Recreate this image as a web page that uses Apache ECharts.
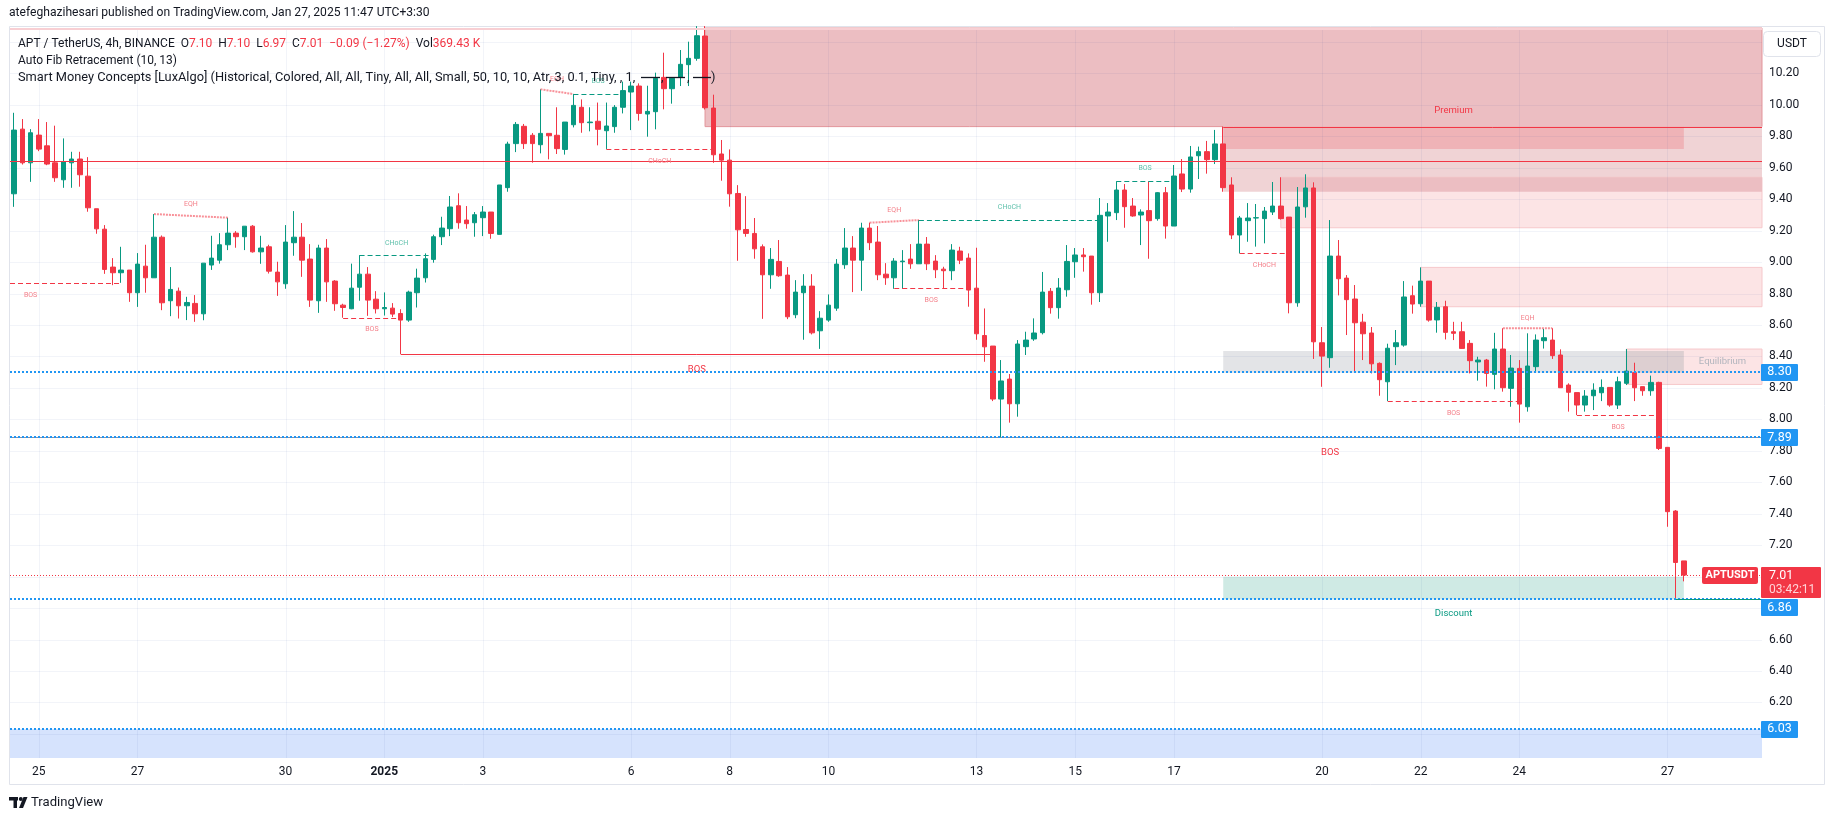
<!DOCTYPE html>
<html><head><meta charset="utf-8">
<script src="https://cdn.jsdelivr.net/npm/echarts@6.0.0/dist/echarts.min.js"></script>
<style>html,body{margin:0;padding:0;background:#fff;}#c{width:1835px;height:821px;}</style>
</head><body><div id="c"></div>
<script>
// ---------- DATA ----------
const opens = [9.434,9.845,9.631,9.807,9.739,9.631,9.523,9.631,9.655,9.546,9.339,9.209,8.968,8.932,8.949,8.805,8.974,8.900,9.158,8.754,
8.815,8.722,8.737,8.671,8.981,9.012,9.110,9.184,9.161,9.228,9.065,9.097,8.936,8.862,9.123,9.158,9.019,8.754,9.089,8.879,
8.726,8.703,8.840,8.923,8.764,8.703,8.707,8.673,8.631,8.805,8.900,9.017,9.161,9.212,9.358,9.267,9.250,9.282,9.318,9.176,
9.473,9.753,9.863,9.806,9.746,9.818,9.806,9.716,9.873,9.984,9.886,9.895,9.835,9.861,9.984,10.081,10.119,9.941,9.956,10.174,
10.102,10.174,10.255,10.295,10.437,9.979,9.687,9.648,9.436,9.207,9.182,9.097,8.919,9.004,8.917,8.665,8.805,8.847,8.563,8.631,
8.707,8.983,9.089,9.012,9.216,9.127,8.923,8.900,9.002,9.019,8.989,9.114,9.006,8.955,8.945,9.070,9.025,8.834,8.533,8.466,
8.129,8.256,8.099,8.462,8.511,8.551,8.814,8.710,8.824,9.002,9.045,9.038,8.805,9.293,9.314,9.458,9.356,9.299,9.327,9.276,
9.441,9.229,9.560,9.464,9.676,9.702,9.651,9.751,9.490,9.172,9.263,9.280,9.276,9.318,9.356,9.286,8.741,9.351,9.471,8.487,
8.392,9.038,8.898,8.765,8.618,8.549,8.356,8.239,8.462,8.472,8.786,8.735,8.879,8.632,8.716,8.557,8.557,8.483,8.365,8.377,
8.286,8.447,8.197,8.324,8.080,8.335,8.500,8.504,8.409,8.218,8.170,8.091,8.150,8.169,8.203,8.091,8.229,8.297,8.208,8.182,
8.235,7.822,7.417,7.10];
const closes = [9.839,9.631,9.822,9.718,9.623,9.536,9.638,9.655,9.555,9.345,9.211,8.953,8.932,8.949,8.805,8.987,8.900,9.158,8.741,8.826,
8.722,8.743,8.671,8.993,9.025,9.110,9.184,9.161,9.228,9.065,9.089,8.942,8.874,9.127,9.158,9.012,8.758,9.089,8.874,8.735,
8.711,8.834,8.923,8.758,8.703,8.711,8.669,8.631,8.809,8.898,9.021,9.161,9.216,9.350,9.250,9.244,9.301,9.318,9.182,9.490,
9.750,9.875,9.753,9.753,9.818,9.803,9.721,9.890,9.996,9.886,9.890,9.844,9.865,9.984,10.090,10.119,9.945,9.958,10.168,10.102,
10.168,10.257,10.295,10.439,9.981,9.682,9.648,9.434,9.205,9.182,9.084,8.919,9.017,8.913,8.652,8.809,8.847,8.550,8.643,8.726,
8.987,9.089,9.012,9.216,9.123,8.919,8.900,9.006,9.006,8.989,9.114,8.989,8.951,8.945,9.076,9.012,8.822,8.544,8.461,8.129,
8.244,8.099,8.479,8.504,8.549,8.809,8.710,8.835,9.004,9.045,9.034,8.805,9.297,9.318,9.458,9.352,9.293,9.318,9.263,9.441,
9.229,9.547,9.464,9.668,9.702,9.651,9.751,9.473,9.172,9.280,9.280,9.282,9.324,9.356,9.276,8.741,9.350,9.471,8.493,8.402,
9.038,8.894,8.761,8.614,8.544,8.353,8.252,8.452,8.487,8.778,8.733,8.879,8.631,8.712,8.553,8.547,8.451,8.373,8.377,8.292,
8.447,8.201,8.326,8.097,8.339,8.504,8.519,8.405,8.201,8.172,8.091,8.148,8.186,8.203,8.091,8.239,8.307,8.201,8.182,8.235,
7.815,7.413,7.090,7.01];
const lows = [9.351,9.62,9.510,9.705,9.616,9.510,9.472,9.472,9.479,9.320,9.180,8.925,8.853,8.868,8.747,8.715,8.805,8.900,8.694,8.656,
8.641,8.631,8.62,8.63,8.95,8.99,9.076,9.091,9.076,9.060,8.989,8.927,8.785,8.830,9.040,8.906,8.715,8.677,8.747,8.690,
8.646,8.70,8.754,8.658,8.673,8.66,8.65,8.415,8.62,8.711,8.87,8.996,9.108,9.165,9.212,9.212,9.161,9.165,9.148,9.176,
9.447,9.699,9.719,9.632,9.691,9.653,9.687,9.683,9.856,9.822,9.831,9.742,9.719,9.822,9.945,9.839,9.899,9.797,9.844,9.971,
10.007,10.119,10.119,10.28,9.97,9.631,9.517,9.352,9.008,9.161,9.021,8.639,8.830,8.906,8.637,8.643,8.506,8.54,8.448,8.62,
8.690,8.957,8.809,8.817,9.076,8.885,8.855,8.830,8.830,8.957,8.989,8.949,8.898,8.832,8.885,8.987,8.716,8.506,8.366,8.116,
7.885,7.979,8.017,8.409,8.499,8.54,8.672,8.640,8.780,8.900,8.939,8.729,8.746,9.129,9.267,9.218,9.288,9.108,9.021,9.263,
9.149,9.229,9.445,9.441,9.528,9.562,9.623,9.447,9.146,9.055,9.129,9.098,9.119,9.299,9.27,8.674,8.716,9.282,8.384,8.207,
8.328,8.788,8.536,8.296,8.377,8.292,8.150,8.116,8.345,8.462,8.672,8.716,8.621,8.551,8.508,8.504,8.45,8.292,8.246,8.208,
8.191,8.176,8.080,7.979,8.049,8.307,8.45,8.384,8.20,8.049,8.027,8.049,8.059,8.116,8.080,8.066,8.218,8.116,8.150,8.150,
7.805,7.317,6.855,6.97];
const highs = [9.949,9.909,9.845,9.909,9.890,9.867,9.786,9.701,9.701,9.667,9.339,9.235,9.025,9.097,8.949,9.057,9.110,9.305,9.169,8.968,
8.838,8.779,8.790,8.993,9.167,9.184,9.281,9.197,9.228,9.235,9.167,9.110,9.002,9.235,9.324,9.248,9.114,9.110,9.146,8.885,
8.735,8.990,9.044,8.968,8.815,8.807,8.739,8.70,8.818,8.958,9.055,9.174,9.288,9.420,9.437,9.356,9.318,9.356,9.318,9.490,
9.765,9.890,9.878,9.820,10.098,9.818,9.984,9.890,10.068,10.034,9.984,10.014,10.014,9.998,10.147,10.147,10.136,10.121,10.204,10.331,
10.168,10.348,10.401,10.50,10.50,10.064,9.776,9.716,9.489,9.419,9.280,9.112,9.089,9.140,8.968,8.885,8.923,8.923,8.688,8.794,
9.019,9.216,9.165,9.250,9.250,9.229,8.993,9.025,9.076,9.114,9.267,9.159,9.044,8.970,9.114,9.097,9.055,9.091,8.705,8.466,
8.377,8.288,8.504,8.557,8.642,8.937,8.835,8.898,9.108,9.089,9.089,9.038,9.407,9.375,9.513,9.496,9.407,9.335,9.513,9.445,
9.477,9.617,9.655,9.738,9.734,9.770,9.840,9.861,9.539,9.293,9.375,9.369,9.350,9.509,9.539,9.286,9.477,9.558,9.507,8.587,
9.267,9.140,8.917,8.854,8.671,8.587,8.362,8.481,8.568,8.879,8.850,8.966,8.879,8.746,8.754,8.62,8.62,8.504,8.398,8.384,
8.55,8.579,8.409,8.377,8.547,8.54,8.575,8.579,8.445,8.229,8.170,8.186,8.229,8.254,8.203,8.271,8.447,8.360,8.208,8.278,
8.239,7.822,7.423,7.10];

const tickIdx = [3,15,33,45,57,75,87,99,117,129,141,159,171,183,201];
const tickLabels = ['25','27','30','2025','3','6','8','10','13','15','17','20','22','24','27'];
const yLabelValues = [6.2,6.4,6.6,7.2,7.4,7.6,7.8,8.0,8.2,8.4,8.6,8.8,9.0,9.2,9.4,9.6,9.8,10.0,10.2];
const gridPrices = [6.0,6.2,6.4,6.6,6.8,7.0,7.2,7.4,7.6,7.8,8.0,8.2,8.4,8.6,8.8,9.0,9.2,9.4,9.6,9.8,10.0,10.2,10.4];
const fibLevels = [8.30, 7.885, 6.856, 6.031];
const fibTags = ['8.30','7.89','6.86','6.03'];
const lastPrice = 7.01;
// zones: [fromIndex, toIndex (null = right edge), top, bottom]
const zones = [
  [84, null, 10.49, 9.861],
  [147, null, 9.861, 9.447],
  [147, 203, 9.861, 9.719],
  [154, null, 9.539, 9.218],
  [154, null, 9.539, 9.447],
  [171, null, 8.966, 8.716],
  [147, 203, 8.434, 8.296],
  [196, null, 8.447, 8.222],
  [196, 203, 8.434, 8.296],
  [147, 203, 7.00, 6.855],
  [-5, null, 6.031, 5.70]
];
// structure lines: [x1, p1, x2, p2, kind, label, side]
const structures = [
  [-9, 8.864, 13, 8.864, 'bearDash', 'BOS', 'below'],
  [17, 9.305, 26, 9.282, 'eqh', 'EQH', 'above'],
  [40, 8.646, 47, 8.646, 'bearDash', 'BOS', 'below'],
  [42, 9.043, 51, 9.043, 'bullDash', 'CHoCH', 'above'],
  [64, 10.098, 68, 10.068, 'eqh', 'EQH', 'above'],
  [68, 10.068, 74, 10.068, 'bullDash', 'BOS', 'above'],
  [72, 9.718, 85, 9.718, 'bearDash', 'CHoCH', 'below'],
  [104, 9.250, 110, 9.267, 'eqh', 'EQH', 'above'],
  [107, 8.833, 116, 8.833, 'bearDash', 'BOS', 'below'],
  [110, 9.267, 132, 9.267, 'bullDash', 'CHoCH', 'above'],
  [134, 9.515, 141, 9.515, 'bullDash', 'BOS', 'above'],
  [149, 9.056, 155, 9.056, 'bearDash', 'CHoCH', 'below'],
  [167, 8.116, 183, 8.116, 'bearDash', 'BOS', 'below'],
  [181, 8.579, 187, 8.579, 'eqh', 'EQH', 'above'],
  [190, 8.026, 200, 8.026, 'bearDash', 'BOS', 'below'],
  [47, 8.415, 119, 8.415, 'bearSolid', 'BOS', 'big'],
  [120, 7.885, 200, 7.885, 'none', 'BOS', 'big']
];
const chochLevel = 9.642;   // full-width red line
const strongHigh = 9.861;   // red line from index 147
const weakLow = 6.855;      // teal line from index 202
// zone labels: [index, price, text]
const zoneLabels = [[175, 9.962, 'Premium'], [207.7, 8.365, 'Equilibrium'], [175, 6.766, 'Discount']];
const headerText = 'atefeghazihesari published on TradingView.com, Jan 27, 2025 11:47 UTC+3:30';
const legend2 = 'Auto Fib Retracement (10, 13)';
const legend3 = 'Smart Money Concepts [LuxAlgo] (Historical, Colored, All, All, Tiny, All, All, Small, 50, 10, 10, Atr, 3, 0.1, Tiny, , 1,';

// ---------- BUILD ----------
const categories = [];
(function(){ const t0 = Date.UTC(2024,11,24,12); for (let i=0;i<213;i++){ categories.push(new Date(t0+i*14400000).toISOString().slice(5,13)); } })();
const ohlc = opens.map((o,i)=>[o, closes[i], lows[i], highs[i]]);

const FF = 'Roboto, "Noto Sans", sans-serif';
const mctx = document.createElement('canvas').getContext('2d');
function fitSize(text, target, weight){
  mctx.font = (weight||'normal') + ' 100px ' + FF;
  return Math.round(100*target/mctx.measureText(text).width*10)/10;
}
const headerSize = fitSize(headerText, 420);
const legend3Size = fitSize(legend3, 617);
const brandSize = fitSize('TradingView', 72);

const zoneStyle = [
  {fill:'#ecbec2', stroke:'#e3959b'},
  {fill:'#f0d3d5'},
  {fill:'#efb3b7'},
  {fill:'#fce4e5', stroke:'#f6c8cb'},
  {fill:'#ecbec2'},
  {fill:'#fce4e5', stroke:'#f6c8cb'},
  {fill:'#e3e4e7'},
  {fill:'#fce4e5', stroke:'#f6c8cb'},
  {fill:'#ddcfd1'},
  {fill:'#cfeae4'},
  {fill:'#d6e3fd'}
];
const RED='#f23645', GREEN='#089981', BLUE='#2196f3';

function frame(params, api){
  const cs = params.coordSys;
  const bw = api.size([1,0])[0];
  const x0 = api.coord([0, 8])[0];
  const L = cs.x, R = cs.x + cs.width, T = cs.y, B = cs.y + cs.height;
  return {
    L, R, T, B, bw,
    X: i => x0 + i*bw,
    Y: p => api.coord([0, p])[1],
    cx: v => Math.max(L, Math.min(R, v)),
    cy: v => Math.max(T, Math.min(B, v))
  };
}
function hline(y, xa, xb, stroke, w, dash){
  return {type:'line', shape:{x1:xa, y1:y, x2:xb, y2:y}, style:{stroke, lineWidth:w, lineDash:dash||null}};
}
function txt(x, y, s, fill, size, align, weight){
  return {type:'text', style:{text:s, x, y, fill, font:(weight||'normal')+' '+size+'px '+FF, align:align||'center', verticalAlign:'middle', textAlign:align||'center', textVerticalAlign:'middle'}};
}

function renderBack(params, api){
  const f = frame(params, api);
  const ch = [];
  zones.forEach((z, k) => {
    const xa = f.cx(f.X(z[0])), xb = z[1]==null ? f.R : f.cx(f.X(z[1]));
    const ya = f.cy(f.Y(z[2])), yb = f.cy(f.Y(z[3]));
    const st = zoneStyle[k];
    ch.push({type:'rect', shape:{x:xa, y:ya, width:xb-xa, height:yb-ya}, style:{fill:st.fill, stroke:st.stroke||null, lineWidth:st.stroke?1:0}});
  });
  const gc = 'rgba(30,60,150,0.06)';
  gridPrices.forEach(p => { const y = Math.round(f.Y(p))+0.5; if (y>f.T && y<f.B) ch.push(hline(y, f.L, f.R, gc, 1)); });
  tickIdx.forEach(i => { const x = Math.round(f.X(i))+0.5; ch.push({type:'line', shape:{x1:x, y1:f.T, x2:x, y2:f.B}, style:{stroke:gc, lineWidth:1}}); });
  return {type:'group', children: ch};
}

function renderFront(params, api){
  const f = frame(params, api);
  const ch = [];
  ch.push({type:'rect', shape:{x:f.L, y:f.T, width:f.R-f.L, height:2}, style:{fill:'#f8cfd3'}});
  let y = Math.round(f.Y(chochLevel))+0.5;
  ch.push(hline(y, f.L, f.R, RED, 1));
  y = Math.round(f.Y(strongHigh))+0.5;
  ch.push(hline(y, f.cx(f.X(147)), f.R, RED, 1));
  structures.forEach(s => {
    const xa = f.cx(f.X(s[0])), xb = f.cx(f.X(s[2]));
    const ya = f.Y(s[1]), yb = f.Y(s[3]);
    const kind = s[4];
    if (kind === 'bearDash' || kind === 'bullDash') {
      const yy = Math.round(ya)+0.5;
      ch.push(hline(yy, xa, xb, kind==='bearDash'?RED:GREEN, 1, [5,3]));
    } else if (kind === 'eqh') {
      ch.push({type:'line', shape:{x1:xa, y1:ya, x2:xb, y2:yb}, style:{stroke:'rgba(242,54,69,0.55)', lineWidth:2, lineDash:[2,1]}});
    } else if (kind === 'bearSolid') {
      const yy = Math.round(ya)+0.5;
      ch.push(hline(yy, xa, xb, RED, 1));
    }
    const mx = (f.X(s[0]) + f.X(s[2]))/2;
    const bull = kind === 'bullDash';
    if (s[6] === 'above') ch.push(txt(mx, Math.min(ya,yb) - (kind==='eqh'?10:12.5), s[5], bull?'#5fc0ab':'#f4808a', 7));
    else if (s[6] === 'below') ch.push(txt(mx, ya + 12, s[5], '#f4808a', 7));
    else ch.push(txt(mx, ya + 15.5, s[5], RED, 9.5));
  });
  fibLevels.forEach((p, k) => {
    const yy = Math.round(f.Y(p));
    if (k === 1) ch.push(hline(yy+0.5, f.L, f.R, 'rgba(120,130,155,0.9)', 1));
    ch.push(hline(yy, f.L, f.R, BLUE, 2, [2,2]));
  });
  y = Math.round(f.Y(weakLow))+0.5;
  ch.push(hline(y, f.X(202), f.R, GREEN, 1));
  y = Math.round(f.Y(lastPrice))+0.5;
  ch.push(hline(y, f.L, f.R, RED, 1, [1,2]));
  zoneLabels.forEach((z, k) => {
    const col = k===0 ? RED : (k===1 ? '#b2b5be' : GREEN);
    ch.push(txt(f.X(z[0]), f.Y(z[1]), z[2], col, 9.5));
  });
  return {type:'group', children: ch};
}

function renderTags(params, api){
  const f = frame(params, api);
  const ch = [];
  const xL = f.R - 1;
  fibLevels.forEach((p, k) => {
    let yc = f.Y(p);
    if (k === 2) yc = yc + 8.5;
    ch.push({type:'rect', shape:{x:xL, y:Math.round(yc-8.5), width:37, height:17, r:1}, style:{fill:BLUE}});
    ch.push(txt(xL+18.5, yc, fibTags[k], '#ffffff', 12.5, 'center'));
  });
  const yl = f.Y(lastPrice);
  ch.push({type:'rect', shape:{x:xL, y:Math.round(yl-8), width:60, height:31, r:1}, style:{fill:RED}});
  ch.push(txt(xL+8, yl+1, lastPrice.toFixed(2), '#ffffff', 12.5, 'left'));
  ch.push(txt(xL+8, yl+15, '03:42:11', '#ffd4d8', 12, 'left'));
  ch.push({type:'rect', shape:{x:f.R-60, y:Math.round(yl-8), width:56, height:17, r:2}, style:{fill:RED}});
  ch.push(txt(f.R-32, yl+0.5, 'APTUSDT', '#ffffff', 11, 'center', 'bold'));
  return {type:'group', children: ch};
}

const option = {
  animation: false,
  backgroundColor: '#ffffff',
  grid: {left: 10, right: 73, top: 28, bottom: 63, outerBoundsMode: 'none', containLabel: false},
  xAxis: {
    type: 'category', data: categories, boundaryGap: true,
    axisLine: {show:false}, axisTick: {show:false}, splitLine: {show:false},
    axisLabel: {
      interval: (i) => tickIdx.indexOf(i) >= 0,
      formatter: (v, i) => { const k = tickIdx.indexOf(i); if (k<0) return ''; const s = tickLabels[k]; return s.length===4 ? '{b|'+s+'}' : s; },
      color: '#131722', fontSize: 12, fontFamily: FF, margin: 8,
      rich: {b: {fontWeight: 'bold', color: '#131722', fontSize: 12, fontFamily: FF}}
    }
  },
  yAxis: {
    type: 'value', position: 'right', min: 5.847, max: 10.488,
    axisLine: {show:false}, axisTick: {show:false}, splitLine: {show:false},
    axisLabel: {customValues: yLabelValues, formatter: v => v.toFixed(2), color: '#131722', fontSize: 12, fontFamily: FF, margin: 7}
  },
  series: [
    {type:'custom', z:1, silent:true, renderItem: renderBack, data:[[0, 8]], encode:{x:0, y:1}},
    {type:'candlestick', z:2, data: ohlc, barWidth: 5, clip: true, silent: true,
     itemStyle: {color: GREEN, color0: RED, borderColor: GREEN, borderColor0: RED, borderWidth: 1}},
    {type:'custom', z:3, silent:true, renderItem: renderFront, data:[[0, 8]], encode:{x:0, y:1}},
    {type:'custom', z:4, silent:true, renderItem: renderTags, data:[[0, 8]], encode:{x:0, y:1}}
  ],
  graphic: [
    {type:'rect', z:0, silent:true, shape:{x:9.5, y:26.5, width:1815, height:758}, style:{fill:null, stroke:'#e0e3eb', lineWidth:1}},
    {type:'text', z:100, x:9, y:13, style:{text: headerText, fill:'#131722', font: headerSize+'px '+FF, verticalAlign:'middle'}},
    {type:'text', z:100, x:18, y:44, style:{
      text:'{a|APT / TetherUS, 4h, BINANCE  O}{r|7.10}{a|  H}{r|7.10}{a|  L}{r|6.97}{a|  C}{r|7.01}{r|  −0.09 (−1.27%)}{a|  Vol}{r|369.43 K}',
      verticalAlign:'middle',
      rich:{a:{fill:'#131722', font:'12px '+FF}, r:{fill:RED, font:'12px '+FF}}}},
    {type:'text', z:100, x:18, y:61, style:{text: legend2, fill:'#131722', font:'12px '+FF, verticalAlign:'middle'}},
    {type:'text', z:100, x:18, y:78, style:{text: legend3, fill:'#131722', font: legend3Size+'px '+FF, verticalAlign:'middle'}},
    {type:'line', z:100, shape:{x1:641, y1:77.5, x2:660, y2:77.5}, style:{stroke:'#131722', lineWidth:1.3}},
    {type:'text', z:100, x:661, y:78, style:{text:',', fill:'#131722', font: legend3Size+'px '+FF, verticalAlign:'middle'}},
    {type:'line', z:100, shape:{x1:666, y1:77.5, x2:685, y2:77.5}, style:{stroke:'#131722', lineWidth:1.3}},
    {type:'text', z:100, x:687, y:78, style:{text:',', fill:'#131722', font: legend3Size+'px '+FF, verticalAlign:'middle'}},
    {type:'line', z:100, shape:{x1:693, y1:77.5, x2:711, y2:77.5}, style:{stroke:'#131722', lineWidth:1.3}},
    {type:'text', z:100, x:711, y:78, style:{text:')', fill:'#131722', font: legend3Size+'px '+FF, verticalAlign:'middle'}},
    {type:'rect', z:100, shape:{x:1763.5, y:31.5, width:57, height:25, r:4}, style:{fill:'#ffffff', stroke:'#e0e3eb', lineWidth:1}},
    {type:'text', z:101, x:1792, y:44, style:{text:'USDT', fill:'#131722', font:'12px '+FF, align:'center', verticalAlign:'middle'}},
    {type:'rect', z:100, shape:{x:9, y:797, width:9, height:3.5}, style:{fill:'#131722'}},
    {type:'rect', z:100, shape:{x:13.5, y:797, width:3.5, height:11}, style:{fill:'#131722'}},
    {type:'circle', z:100, shape:{cx:20.8, cy:799, r:2}, style:{fill:'#131722'}},
    {type:'polygon', z:100, shape:{points:[[23.5,797],[27.5,797],[23,808],[19,808]]}, style:{fill:'#131722'}},
    {type:'text', z:100, x:31, y:803, style:{text:'TradingView', fill:'#131722', font: brandSize+'px '+FF, verticalAlign:'middle'}}
  ]
};
const chart = echarts.init(document.getElementById('c'), null, {renderer:'canvas', width:1835, height:821});
chart.setOption(option);
</script>
</body></html>
